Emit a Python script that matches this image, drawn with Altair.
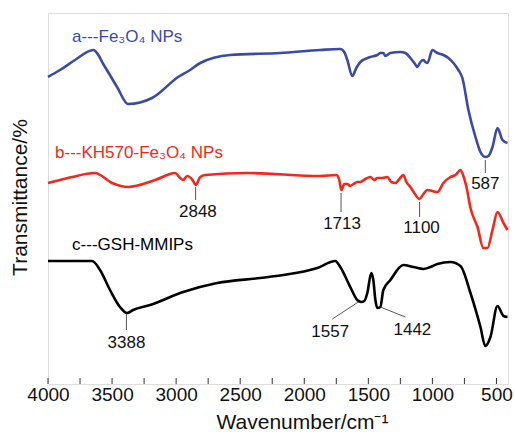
import altair as alt
import pandas as pd

# ---- data ----
blue_wn = [4000, 3906, 3789, 3648, 3555, 3461, 3375, 3188, 2984, 2891, 2812, 2578, 2188, 1875, 1719, 1688,
           1664, 1625, 1594, 1562, 1484, 1430, 1406, 1383, 1367, 1328, 1250, 1211, 1172, 1141, 1117, 1094,
           1070, 1055, 1039, 1000, 961, 914, 875, 836, 797, 766, 719, 664, 625, 587, 563, 531, 492, 453, 414]
blue_t = [307, 314, 324, 334, 317, 297, 280, 286, 307, 314, 321, 329, 331, 334, 335, 332,
          324, 308, 316, 322, 327, 329, 331, 331, 328, 331, 332, 331, 326, 321, 317, 322,
          324, 322, 321, 334, 331, 329, 326, 321, 314, 306, 274, 247, 232, 227, 228, 237, 256, 244, 241]

red_wn = [4000, 3906, 3812, 3633, 3500, 3375, 3164, 3008, 2969, 2945, 2914, 2867, 2848, 2812, 2773, 2445,
          1875, 1750, 1727, 1711, 1688, 1664, 1641, 1617, 1586, 1562, 1523, 1484, 1453, 1430, 1391, 1352,
          1320, 1289, 1258, 1227, 1203, 1172, 1141, 1102, 1070, 1039, 1000, 961, 914, 859, 820, 781, 758,
          734, 703, 648, 602, 570, 531, 492, 445, 414]
red_t = [201, 204, 207, 211, 201, 197, 204, 211, 206, 204, 208, 203, 199, 207, 209, 211,
         208, 209, 204, 194, 200, 200, 198, 200, 202, 202, 205, 207, 204, 206, 206, 207,
         202, 201, 205, 209, 202, 197, 191, 185, 190, 194, 193, 192, 201, 207, 209, 214, 208,
         197, 176, 157, 136, 136, 154, 172, 161, 154]

black_wn = [4000, 3656, 3594, 3516, 3438, 3383, 3336, 3203, 2945, 2680, 2344, 2164, 1898, 1758, 1719, 1641,
            1586, 1555, 1531, 1508, 1477, 1461, 1445, 1430, 1406, 1383, 1328, 1227, 1148, 1070, 1016, 961,
            859, 781, 703, 625, 587, 547, 492, 445, 414]
black_t = [123, 123, 114, 94, 77, 71, 74, 79, 92, 101, 106, 109, 116, 123, 117, 97,
           84, 82, 83, 91, 111, 104, 84, 76, 77, 94, 104, 119, 117, 115, 117, 120,
           122, 118, 91, 57, 38, 47, 78, 68, 67]

series_names = ["a", "b", "c"]
series_colors = ["#3a4aa6", "#f2281c", "#000000"]
legend_text = ["a---Fe₃O₄ NPs", "b---KH570-Fe₃O₄ NPs", "c---GSH-MMIPs"]
legend_wn = [3812, 3945, 3812]
legend_t = [347, 231, 139]

# peak annotations: leader line (x1,y1)->(x2,y2), label at (lx, ly)
ann_text = ["2848", "1713", "1100", "587", "3388", "1557", "1442"]
ann_x1 = [2848, 1713, 1100, 587, 3388, 1578, 1406]
ann_y1 = [197, 191, 182, 224, 70, 82, 77]
ann_x2 = [2848, 1713, 1100, 587, 3388, 1781, 1211]
ann_y2 = [184, 172, 167, 211, 54, 65, 67]
ann_lx = [2830, 1705, 1085, 587, 3388, 1797, 1156]
ann_ly = [172, 160, 156, 200, 41, 52, 54]

tick_values = [4000, 3500, 3000, 2500, 2000, 1500, 1000, 500]
tick_marks = [4000, 3750, 3500, 3250, 3000, 2750, 2500, 2250, 2000, 1750, 1500, 1250, 1000, 750, 500]

# ---- tables ----
rows = []
for name, wns, ts in zip(series_names, [blue_wn, red_wn, black_wn], [blue_t, red_t, black_t]):
    for i, (w, t) in enumerate(zip(wns, ts)):
        rows.append({"series": name, "wn": w, "t": t, "order": i})
spec_df = pd.DataFrame(rows)
leg_df = pd.DataFrame({"series": series_names, "label": legend_text, "wn": legend_wn, "t": legend_t})
ann_df = pd.DataFrame({"text": ann_text, "x1": ann_x1, "y1": ann_y1, "x2": ann_x2, "y2": ann_y2,
                       "lx": ann_lx, "ly": ann_ly})
tick_df = pd.DataFrame({"wn": tick_marks})

FONT = "Liberation Sans"
W, H = 460, 371

xscale = alt.Scale(domain=[410, 4000], reverse=True, nice=False, zero=False)
yscale = alt.Scale(domain=[0, 371], nice=False, zero=False)
colscale = alt.Scale(domain=series_names, range=series_colors)

x_axis = alt.Axis(values=tick_values, format="d", labelFlush=False, ticks=False, domain=False, grid=False,
                  labelFontSize=19, labelFont=FONT, labelColor="#111", labelPadding=1,
                  title="Wavenumber/cm⁻¹", titleFont=FONT, titleFontSize=21, titleFontWeight="normal",
                  titleColor="#111", titleX=254, titleY=38, titleBaseline="middle", titleAlign="center")
y_axis = alt.Axis(labels=False, ticks=False, domain=False, grid=False,
                  title="Transmittance/%", titleFont=FONT, titleFontSize=21, titleFontWeight="normal",
                  titleColor="#111", titleX=-28, titleY=184, titleAngle=-90,
                  titleAlign="center", titleBaseline="middle")

lines = alt.Chart(spec_df).mark_line(strokeWidth=2.6, interpolate="monotone").encode(
    x=alt.X("wn:Q", scale=xscale, axis=x_axis),
    y=alt.Y("t:Q", scale=yscale, axis=y_axis),
    color=alt.Color("series:N", scale=colscale, legend=None),
    order="order:Q",
    detail="series:N",
)

legend_marks = alt.Chart(leg_df).mark_text(align="left", baseline="middle", font=FONT, fontSize=17).encode(
    x=alt.X("wn:Q", scale=xscale),
    y=alt.Y("t:Q", scale=yscale),
    text="label:N",
    color=alt.Color("series:N", scale=colscale, legend=None),
)

ann_lines = alt.Chart(ann_df).mark_rule(color="#555", strokeWidth=1).encode(
    x=alt.X("x1:Q", scale=xscale), y=alt.Y("y1:Q", scale=yscale),
    x2="x2:Q", y2="y2:Q",
)
ann_labels = alt.Chart(ann_df).mark_text(align="center", baseline="middle", font=FONT,
                                         fontSize=17, color="#111").encode(
    x=alt.X("lx:Q", scale=xscale), y=alt.Y("ly:Q", scale=yscale), text="text:N",
)

ticks = alt.Chart(tick_df).mark_rule(color="#333", strokeWidth=1).encode(
    x=alt.X("wn:Q", scale=xscale),
    y=alt.value(H), y2=alt.value(H - 6),
)

chart = alt.layer(lines, legend_marks, ann_lines, ann_labels, ticks).properties(
    width=W, height=H,
    autosize=alt.AutoSizeParams(type="none"),
    padding={"left": 48, "top": 13, "right": 7, "bottom": 64},
).configure_view(stroke="#333", strokeWidth=1.3).configure(background="white")

chart.save("out.html", embed_options={"renderer": "svg", "actions": False})
